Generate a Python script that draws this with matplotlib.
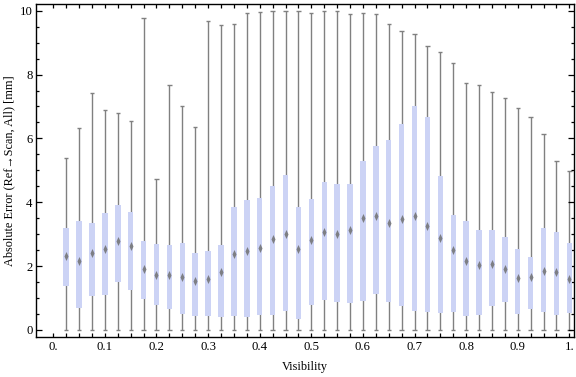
import numpy as np
import matplotlib.pyplot as plt
from matplotlib.path import Path

plt.rcParams['font.family'] = ['Liberation Serif', 'DejaVu Serif']

# visibility bins (box centres)
visibility = [0.025 * (i + 1) for i in range(40)]

whisk_lo = [0.0] * 40
whisk_hi = [5.40, 6.31, 7.43, 6.90, 6.80, 6.55, 9.77, 4.74, 7.68, 7.02,
            6.36, 9.68, 9.55, 9.58, 9.93, 9.96, 9.99, 9.99, 9.99, 9.93,
            9.99, 9.99, 9.90, 9.93, 9.90, 9.58, 9.36, 9.27, 8.90, 8.71,
            8.36, 7.74, 7.68, 7.46, 7.27, 6.96, 6.68, 6.15, 5.30, 4.99]
q1 = [1.38, 0.70, 1.06, 1.10, 1.51, 1.26, 0.98, 0.78, 0.67, 0.51,
      0.45, 0.45, 0.42, 0.45, 0.42, 0.48, 0.48, 0.60, 0.35, 0.79,
      0.95, 0.89, 0.85, 0.92, 1.13, 0.89, 0.76, 0.60, 0.57, 0.54,
      0.57, 0.45, 0.48, 0.76, 0.89, 0.51, 0.67, 0.57, 0.48, 0.54]
median = [2.33, 2.16, 2.42, 2.52, 2.80, 2.64, 1.91, 1.73, 1.71, 1.67,
          1.52, 1.60, 1.80, 2.38, 2.46, 2.58, 2.85, 2.99, 2.54, 2.81,
          3.07, 2.99, 3.14, 3.50, 3.57, 3.36, 3.49, 3.58, 3.26, 2.88,
          2.49, 2.17, 2.04, 2.06, 1.91, 1.64, 1.65, 1.84, 1.80, 1.59]
q3 = [3.18, 3.40, 3.36, 3.66, 3.91, 3.68, 2.78, 2.69, 2.65, 2.73,
      2.41, 2.47, 2.66, 3.84, 4.06, 4.13, 4.50, 4.84, 3.84, 4.09,
      4.62, 4.56, 4.56, 5.28, 5.75, 5.94, 6.44, 7.02, 6.66, 4.81,
      3.60, 3.40, 3.12, 3.12, 2.90, 2.52, 2.30, 3.18, 3.08, 2.71]

x = np.array(visibility)
q1 = np.array(q1)
q3 = np.array(q3)

fig = plt.figure(figsize=(5.76, 3.77), dpi=100)
ax = fig.add_axes([0.0625, 0.107, 0.934, 0.8816])

gray = '#808080'
# whiskers + caps
ax.vlines(x, whisk_lo, whisk_hi, color=gray, lw=1.0, zorder=1)
cap = 0.0042
ax.hlines(whisk_lo, x - cap, x + cap, color=gray, lw=1.0, zorder=1)
ax.hlines(whisk_hi, x - cap, x + cap, color=gray, lw=1.0, zorder=1)

# boxes
ax.bar(x, q3 - q1, bottom=q1, width=0.0105, color='#ccd3f5', zorder=2)

# median diamonds
diamond = Path([(0, 1), (0.45, 0), (0, -1), (-0.45, 0), (0, 1)],
               [Path.MOVETO, Path.LINETO, Path.LINETO, Path.LINETO, Path.CLOSEPOLY])
ax.scatter(x, median, marker=diamond, s=42, color='#707070', alpha=0.85,
           linewidths=0, zorder=3)

ax.set_xlim(-0.0335, 1.009)
ax.set_ylim(-0.21, 10.2)

ax.set_xticks(np.arange(0, 1.0001, 0.025), minor=True)
ax.set_xticks(np.arange(0, 1.0001, 0.1))
ax.set_xticklabels(['0.', '0.1', '0.2', '0.3', '0.4', '0.5', '0.6', '0.7',
                    '0.8', '0.9', '1.'])
ax.set_yticks(np.arange(0, 10.01, 2))
ax.set_yticks(np.arange(0, 10.01, 0.5), minor=True)

ax.tick_params(which='both', direction='in', top=True, right=True,
               labelsize=9.2, width=0.9)
ax.tick_params(axis='x', which='both', length=3, pad=3)
ax.tick_params(axis='y', which='major', length=4.5, pad=2.5)
ax.tick_params(axis='y', which='minor', length=2.5, pad=2.5)
for s in ax.spines.values():
    s.set_linewidth(1.0)

ax.set_xlabel('Visibility', fontsize=8.8, labelpad=6)
ax.set_ylabel('Absolute Error (Ref\u2192Scan, All) [mm]', fontsize=8.8)
ax.yaxis.set_label_coords(-0.038, 0.5)

fig.savefig('out.png', dpi=100)
